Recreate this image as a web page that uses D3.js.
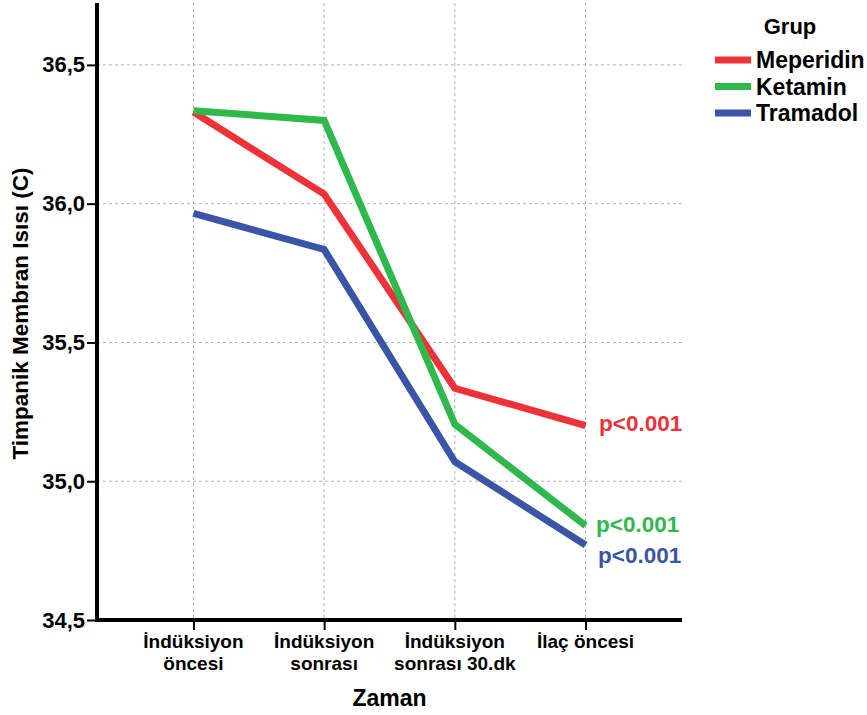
<!DOCTYPE html>
<html>
<head>
    <meta charset="utf-8"/>
    <title>Timpanik Membran Isısı</title>
    <style>
        body {
            margin: 0;
            background: #fff;
            font-family: 'Liberation Sans', Arial, sans-serif;
        }
        svg { display: block; }
        .grid line { stroke: #b4b4b4; stroke-width: 1; stroke-dasharray: 3,3; }
        .tick-label { font-weight: bold; fill: #000; }
    </style>
    <script src="https://cdnjs.cloudflare.com/ajax/libs/d3/7.8.5/d3.min.js"></script>
</head>
<body>
<svg id="chart" width="867" height="715"></svg>
<script>
// categories (x), two-line tick labels
const categories = ['İndüksiyon öncesi', 'İndüksiyon sonrası', 'İndüksiyon sonrası 30.dk', 'İlaç öncesi'];
const tickLines = [['İndüksiyon', 'öncesi'], ['İndüksiyon', 'sonrası'], ['İndüksiyon', 'sonrası 30.dk'], ['İlaç öncesi']];

const groups = ['Meperidin', 'Ketamin', 'Tramadol'];
const colors = ['#ee3338', '#2fb84c', '#3b55a6'];

const meperidin = [36.33, 36.035, 35.335, 35.20];
const ketamin   = [36.335, 36.30, 35.205, 34.84];
const tramadol  = [35.965, 35.835, 35.07, 34.77];

const yTicks = [34.5, 35.0, 35.5, 36.0, 36.5];
const pLabels = ['p<0.001', 'p<0.001', 'p<0.001'];

const series = [meperidin, ketamin, tramadol];

const svg = d3.select('#chart');

const mLeft = 97, mRight = 682, mTop = 3, mBottom = 620;

const x = d3.scalePoint().domain(categories).range([mLeft, mRight]).padding(0.738);
const y = d3.scaleLinear().domain([34.5, 36.723]).range([mBottom, mTop]);

// grid
const grid = svg.append('g').attr('class', 'grid');
grid.selectAll('.hg').data(yTicks.slice(1)).enter().append('line')
    .attr('x1', mLeft).attr('x2', mRight)
    .attr('y1', d => y(d)).attr('y2', d => y(d));
grid.selectAll('.vg').data(categories).enter().append('line')
    .attr('x1', d => x(d)).attr('x2', d => x(d))
    .attr('y1', mTop).attr('y2', mBottom);

// lines
const line = d3.line().x((d, i) => x(categories[i])).y(d => y(d));
svg.selectAll('.series').data(series).enter().append('path')
    .attr('d', line)
    .attr('fill', 'none')
    .attr('stroke', (d, i) => colors[i])
    .attr('stroke-width', 7)
    .attr('stroke-linejoin', 'miter');

// axes
const yAxis = svg.append('g').attr('transform', `translate(${mLeft},0)`)
    .call(d3.axisLeft(y).tickValues(yTicks).tickSize(10).tickPadding(2)
        .tickFormat(d => d3.format('.1f')(d).replace('.', ',')));
yAxis.select('.domain').attr('stroke', '#000').attr('stroke-width', 4)
    .attr('d', `M0,${mTop}V${mBottom + 2}`);
yAxis.selectAll('.tick line').attr('stroke-width', 2);
yAxis.selectAll('.tick text').attr('class', 'tick-label').style('font-size', '22px')
    .style('font-family', 'Liberation Sans, Arial, sans-serif');

const xAxis = svg.append('g').attr('transform', `translate(0,${mBottom})`)
    .call(d3.axisBottom(x).tickSize(10).tickFormat(''));
xAxis.select('.domain').attr('stroke', '#000').attr('stroke-width', 4)
    .attr('d', `M${mLeft - 2},0H${mRight}`);
xAxis.selectAll('.tick line').attr('stroke-width', 2);

categories.forEach((c, i) => {
    const t = svg.append('text')
        .attr('class', 'tick-label')
        .attr('x', x(c))
        .attr('y', 648)
        .attr('text-anchor', 'middle')
        .style('font-size', '19px');
    tickLines[i].forEach((s, j) => {
        t.append('tspan').attr('x', x(c)).attr('dy', j === 0 ? 0 : 22).text(s);
    });
});

// axis titles
svg.append('text')
    .attr('x', (mLeft + mRight) / 2).attr('y', 706)
    .attr('text-anchor', 'middle')
    .style('font-size', '23px').style('font-weight', 'bold')
    .text('Zaman');

svg.append('text')
    .attr('transform', `translate(28,${(mTop + mBottom) / 2 + 2}) rotate(-90)`)
    .attr('text-anchor', 'middle')
    .style('font-size', '22.5px').style('font-weight', 'bold')
    .text('Timpanik Membran Isısı (C)');

// p values at the last point
const pY = [423, 524, 555];
const pX = [599, 596, 598];
pLabels.forEach((p, i) => {
    svg.append('text')
        .attr('x', pX[i]).attr('y', pY[i])
        .attr('dy', '0.35em')
        .attr('fill', colors[i])
        .style('font-size', '22.5px').style('font-weight', 'bold')
        .text(p);
});

// legend
const legend = svg.append('g');
legend.append('text')
    .attr('x', 790).attr('y', 26).attr('dy', '0.35em')
    .attr('text-anchor', 'middle')
    .style('font-size', '22px').style('font-weight', 'bold')
    .text('Grup');
groups.forEach((g, i) => {
    const yy = 60 + i * 26.5;
    legend.append('line')
        .attr('x1', 715).attr('x2', 751)
        .attr('y1', yy).attr('y2', yy)
        .attr('stroke', colors[i]).attr('stroke-width', 7);
    legend.append('text')
        .attr('x', 756).attr('y', yy).attr('dy', '0.35em')
        .style('font-size', '23px').style('font-weight', 'bold')
        .text(g);
});
</script>
</body>
</html>
